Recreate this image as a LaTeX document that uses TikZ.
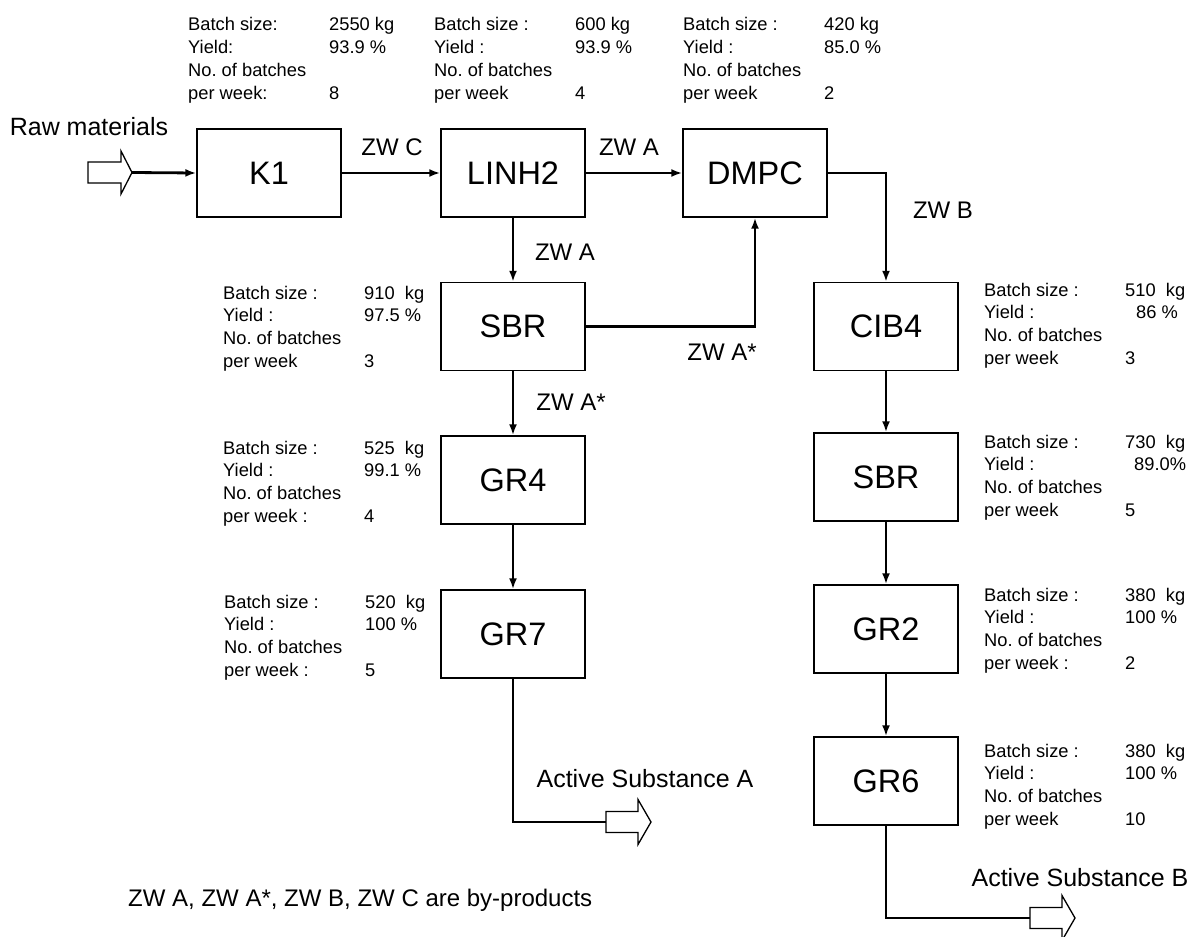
\documentclass[tikz,border=0pt]{standalone}
\usepackage{fontspec}
\setmainfont{Liberation Sans}
\usetikzlibrary{arrows.meta}
\newcommand{\infoblock}[8]{\begin{tabular}[t]{@{}p{141pt}@{}l@{}}#1 & #2\\ #3 & #4\\ #5 & #6\\ #7 & #8\end{tabular}}
\begin{document}
\begin{tikzpicture}[x=1pt,y=-1pt,
 box/.style={draw, line width=1.4pt, minimum width=144pt, minimum height=88pt, inner sep=0pt, font=\fontsize{32.5}{38}\selectfont},
 conn/.style={line width=2.8pt, -{Latex[length=11pt,width=8pt]}},
 plainline/.style={line width=2.8pt},
 lbl/.style={inner sep=0pt, font=\fontsize{24}{28}\selectfont},
 biglbl/.style={inner sep=0pt, font=\fontsize{25}{29}\selectfont},
 info/.style={inner sep=0pt, anchor=base west, font=\fontsize{18.3}{22.7}\selectfont},
 hollow/.style={draw, line width=1.3pt, fill=white, line join=miter}]
\useasboundingbox (0,0) rectangle (1198,936);

% process boxes
\node[box] (k1)    at (269,173)   {K1};
\node[box] (linh2) at (513,173)   {LINH2};
\node[box] (dmpc)  at (755,173)   {DMPC};
\node[box] (sbr1)  at (513,326.5) {SBR};
\node[box] (gr4)   at (513,480)   {GR4};
\node[box] (gr7)   at (513,634)   {GR7};
\node[box] (cib4)  at (886,326.5) {CIB4};
\node[box] (sbr2)  at (886,477)   {SBR};
\node[box] (gr2)   at (886,629)   {GR2};
\node[box] (gr6)   at (886,781)   {GR6};

% hollow arrow (input)
\draw[hollow] (88,162)--(121,162)--(121,151)--(132,172.5)--(121,194)--(121,183)--(88,183)--cycle;
\coordinate (rawtip) at (132,172.5);
\coordinate (atail) at (606,822);
\coordinate (btail) at (1030,918);

% connectors
\draw[conn] (rawtip) -- (k1.west);
\draw[conn] (k1.east) -- (linh2.west);
\draw[conn] (linh2.east) -- (dmpc.west);
\draw[conn] (dmpc.east) -| (cib4.north);
\draw[conn] (linh2.south) -- (sbr1.north);
\draw[conn] (sbr1.east) -| (dmpc.south);
\draw[conn] (sbr1.south) -- (gr4.north);
\draw[conn] (gr4.south) -- (gr7.north);
\draw[conn] (cib4.south) -- (sbr2.north);
\draw[conn] (sbr2.south) -- (gr2.north);
\draw[conn] (gr2.south) -- (gr6.north);
\draw[plainline] (gr7.south) |- (atail);
\draw[plainline] (gr6.south) |- (btail);

% hollow arrows (outputs)
\draw[hollow] (606,811.5)--(638,811.5)--(638,799.5)--(651,822)--(638,844.5)--(638,832.5)--(606,832.5)--cycle;
\draw[hollow] (1030,907.5)--(1062,907.5)--(1062,895.5)--(1075,918)--(1062,940.5)--(1062,928.5)--(1030,928.5)--cycle;

% labels
\node[biglbl] (rawlbl) at (89,127) {Raw materials};
\node[lbl] (zwc)  at (392,147) {ZW C};
\node[lbl] (zwa1) at (629,147) {ZW A};
\node[lbl] (zwb)  at (943,210) {ZW B};
\node[lbl] (zwa2) at (565,252) {ZW A};
\node[lbl] (zwa3) at (722,352) {ZW A*};
\node[lbl] (zwa4) at (571,402) {ZW A*};
\node[biglbl] (asa)  at (645,779) {Active Substance A};
\node[biglbl] (asb)  at (1080,878) {Active Substance B};
\node[lbl, anchor=west] (note) at (128,900) {ZW A, ZW A*, ZW B, ZW C are by-products};

% info blocks
\node[info] (i1) at (188,31) {\infoblock{Batch size:}{2550 kg}{Yield:}{93.9 \%}{No.\ of batches}{}{per week:}{8}};
\node[info] (i2) at (434,31) {\infoblock{Batch size :}{600 kg}{Yield :}{93.9 \%}{No.\ of batches}{}{per week}{4}};
\node[info] (i3) at (683,31) {\infoblock{Batch size :}{420 kg}{Yield :}{85.0 \%}{No.\ of batches}{}{per week}{2}};
\node[info] (i4) at (223,299) {\infoblock{Batch size :}{910\ \ kg}{Yield :}{97.5 \%}{No.\ of batches}{}{per week}{3}};
\node[info] (i5) at (223,454) {\infoblock{Batch size :}{525\ \ kg}{Yield :}{99.1 \%}{No.\ of batches}{}{per week :}{4}};
\node[info] (i6) at (224,608) {\infoblock{Batch size :}{520\ \ kg}{Yield :}{100 \%}{No.\ of batches}{}{per week :}{5}};
\node[info] (i7) at (984,296) {\infoblock{Batch size :}{510\ \ kg}{Yield :}{\hspace{11pt}86 \%}{No.\ of batches}{}{per week}{3}};
\node[info] (i8) at (984,448) {\infoblock{Batch size :}{730\ \ kg}{Yield :}{\hspace{9pt}89.0\%}{No.\ of batches}{}{per week}{5}};
\node[info] (i9) at (984,601) {\infoblock{Batch size :}{380\ \ kg}{Yield :}{100 \%}{No.\ of batches}{}{per week :}{2}};
\node[info] (i10) at (984,757) {\infoblock{Batch size :}{380\ \ kg}{Yield :}{100 \%}{No.\ of batches}{}{per week}{10}};
\end{tikzpicture}
\end{document}
